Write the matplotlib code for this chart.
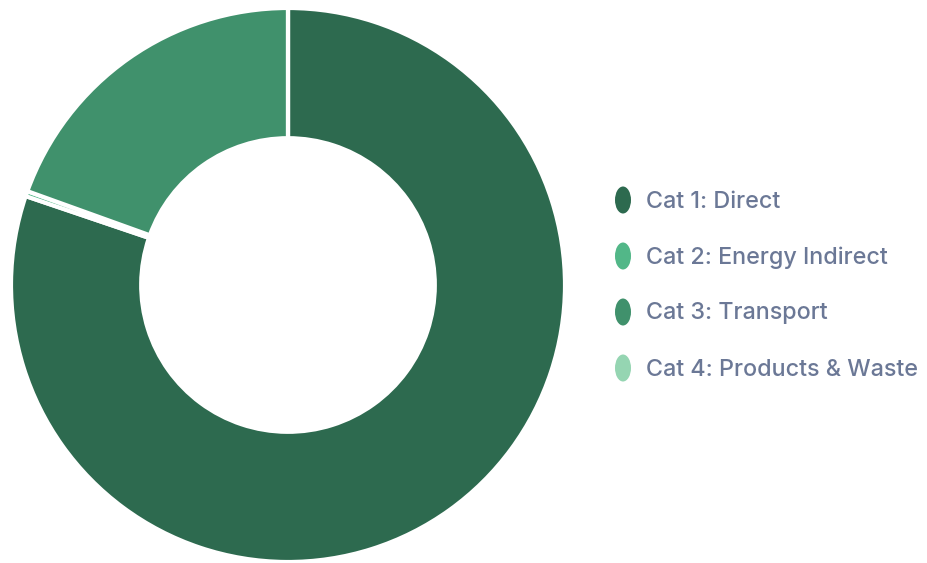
import matplotlib
matplotlib.use('Agg')
import matplotlib.pyplot as plt
from matplotlib.patches import Ellipse

# scope breakdown (share of total, %)
categories = ['Cat 1: Direct', 'Cat 2: Energy Indirect', 'Cat 3: Transport', 'Cat 4: Products & Waste']
values = [80.2, 0.3, 19.5, 0.0]
colors = ['#2d6a4f', '#52b788', '#40916c', '#95d5b2']

plt.rcParams['font.family'] = ['Inter', 'DejaVu Sans']

fig = plt.figure(figsize=(9.28, 5.63), dpi=100)
fig.patch.set_facecolor('white')

# donut
ax = fig.add_axes([11 / 928, 1 / 563, 554 / 928, 554 / 563])
ax.pie(values, colors=colors, startangle=90, counterclock=False, radius=1.0,
       wedgeprops=dict(width=0.47, edgecolor='white', linewidth=3))
ax.set_xlim(-1.0, 1.0)
ax.set_ylim(-1.0, 1.0)
ax.set_aspect('equal')
ax.axis('off')

# legend drawn in pixel coordinates
lg = fig.add_axes([0, 0, 1, 1])
lg.set_xlim(0, 928)
lg.set_ylim(563, 0)
lg.axis('off')
rows_y = [200, 256, 312, 368]
for name, c, y in zip(categories, colors, rows_y):
    lg.add_patch(Ellipse((623, y), 16, 27, facecolor=c, edgecolor='none'))
    lg.text(646, y + 1.5, name, fontsize=16.8, color='#6b7896', va='center', ha='left',
            fontweight='medium')

fig.savefig('out.png', dpi=100, facecolor='white')
